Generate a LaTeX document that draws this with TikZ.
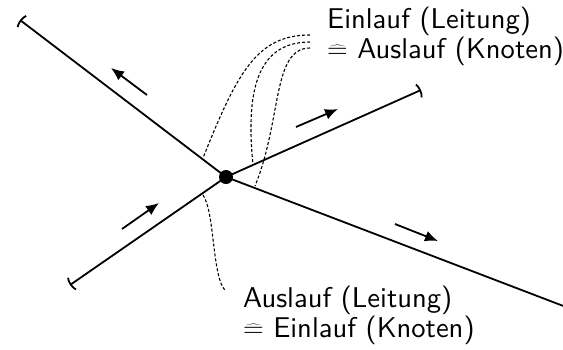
\RequirePackage{fix-cm}
\documentclass[tikz,border=0pt]{standalone}
\usetikzlibrary{arrows.meta}
\font\lblfont="[lmsans10-regular]:mapping=tex-text" at 28.6pt
\newcommand\corrsym{$\mathrel{\widehat{=}}$}
\begin{document}
\begin{tikzpicture}[x=1pt,y=-1pt,
  mainline/.style={line width=1.8pt,-{Parenthesis[width=18pt,length=4pt]}},
  flow/.style={line width=1.8pt,-{Latex[length=13pt,width=11pt]}},
  guide/.style={line width=1.1pt,dash pattern=on 3pt off 2pt},
  lbl/.style={inner sep=0pt,align=left,anchor=base west,font=\fontsize{28.6}{28.5}\selectfont\lblfont}]
\useasboundingbox (0,0) rectangle (563,349);
% junction
\node[circle,fill,inner sep=0pt,minimum size=14pt] (c) at (226,177) {};
\coordinate (nw) at (20,20);
\coordinate (ne) at (421,90);
\coordinate (sw) at (70,285);
\coordinate (se) at (566,307);
\draw[mainline] (c.center) -- (nw);
\draw[mainline] (c.center) -- (ne);
\draw[mainline] (c.center) -- (sw);
\draw[line width=1.8pt] (c.center) -- (se);
% flow arrows
\coordinate (a1s) at (147,95);  \coordinate (a1e) at (111,68);
\coordinate (a2s) at (296,127); \coordinate (a2e) at (338,109);
\coordinate (a3s) at (122,229); \coordinate (a3e) at (159,203);
\coordinate (a4s) at (395,224); \coordinate (a4e) at (438,241);
\draw[flow] (a1s) -- (a1e);
\draw[flow] (a2s) -- (a2e);
\draw[flow] (a3s) -- (a3e);
\draw[flow] (a4s) -- (a4e);
% labels
\node[lbl] (top) at (327,58) {Einlauf (Leitung)\\\corrsym{} Auslauf (Knoten)};
\node[lbl] (bot) at (243,337) {Auslauf (Leitung)\\\corrsym{} Einlauf (Knoten)};
% dashed guides
\coordinate (g1) at (310,35); \coordinate (e1) at (203,158);
\coordinate (g2) at (310,42); \coordinate (e2) at (253,165);
\coordinate (g3) at (310,48); \coordinate (e3) at (255,186);
\coordinate (g4) at (203,195); \coordinate (e4) at (226,291);
\draw[guide] (g1) .. controls (258,35) and (238,70) .. (e1);
\draw[guide] (g2) .. controls (255,42) and (246,95) .. (e2);
\draw[guide] (g3) .. controls (272,48) and (282,120) .. (e3);
\draw[guide] (g4) .. controls (215,212) and (212,280) .. (e4);
\end{tikzpicture}
\end{document}
